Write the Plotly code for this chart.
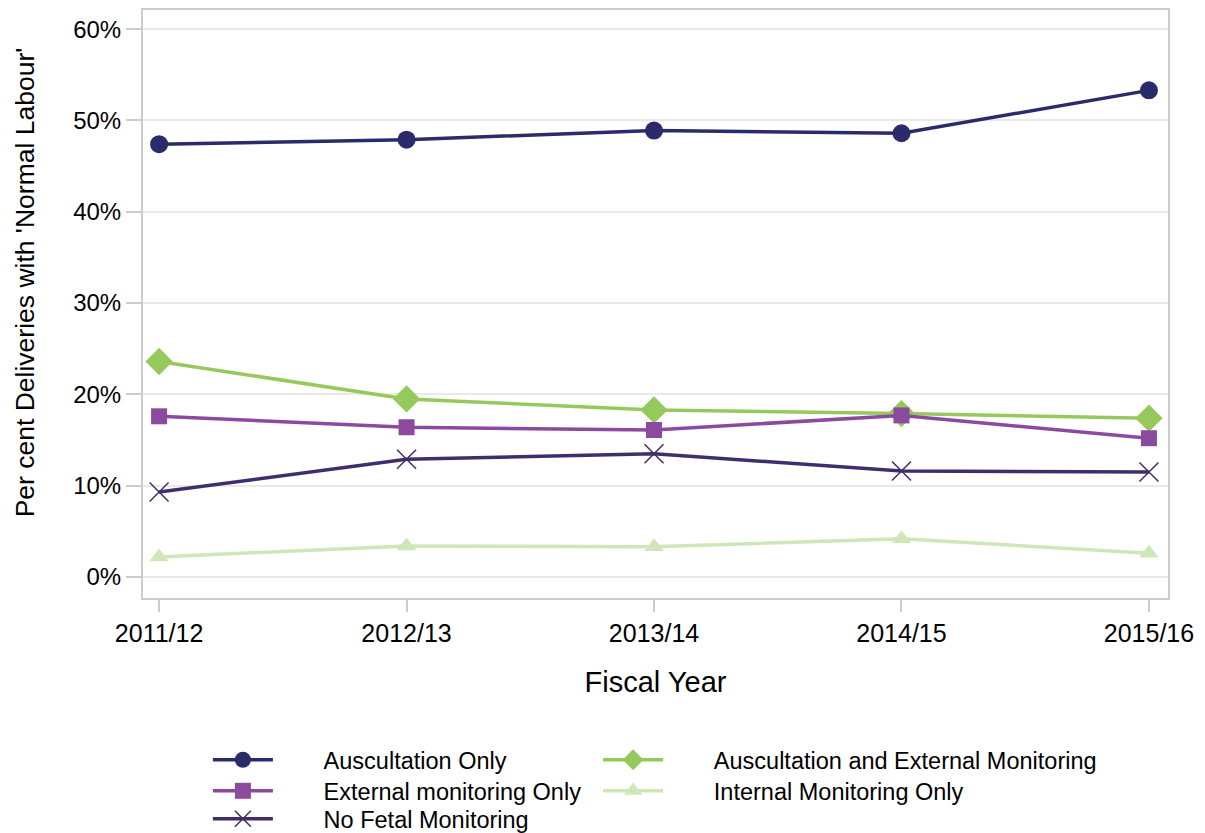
import plotly.graph_objects as go

years = ["2011/12", "2012/13", "2013/14", "2014/15", "2015/16"]

auscultation_only = [47.4, 47.9, 48.9, 48.6, 53.3]
auscultation_external = [23.6, 19.5, 18.3, 17.9, 17.4]
external_only = [17.6, 16.4, 16.1, 17.7, 15.2]
internal_only = [2.2, 3.4, 3.3, 4.2, 2.6]
no_fetal = [9.3, 12.9, 13.5, 11.6, 11.5]

y_ticks = [0, 10, 20, 30, 40, 50, 60]
y_ticktext = [f"{v}%" for v in y_ticks]

# name, values, colour, symbol, size, marker line width, legend id
series = [
    ("Auscultation Only", auscultation_only, "#2b2a6b", "circle", 18, None, "legend"),
    ("Auscultation and External Monitoring", auscultation_external, "#96c95c", "diamond", 21, None, "legend2"),
    ("External monitoring Only", external_only, "#8c4a9e", "square", 16, None, "legend3"),
    ("Internal Monitoring Only", internal_only, "#cfe7b8", "triangle-up", 17, None, "legend4"),
    ("No Fetal Monitoring", no_fetal, "#3f2e6b", "x-thin-open", 19, 1.5, "legend5"),
]

pad = "\u00a0" * 7  # gap between legend line and its text

fig = go.Figure()
for name, vals, color, symbol, size, mlw, leg in series:
    marker = dict(symbol=symbol, size=size, color=color)
    if mlw:
        marker["line"] = dict(color=color, width=mlw)
    fig.add_trace(go.Scatter(x=list(range(len(years))), y=vals, mode="lines+markers",
                             name=pad + name, legend=leg,
                             line=dict(color=color, width=3.5), marker=marker))


def leg_box(x, y):
    return dict(orientation="v", xref="container", yref="container",
                xanchor="left", yanchor="middle", x=x, y=y,
                itemwidth=60, font=dict(size=23.5), bgcolor="rgba(0,0,0,0)")


col1, col2 = 0.167, 0.493
row1, row2, row3 = 0.0885, 0.0509, 0.017

fig.update_layout(
    width=1197, height=825,
    margin=dict(l=135, r=37, t=2, b=235, autoexpand=False),
    plot_bgcolor="white", paper_bgcolor="white",
    font=dict(family="Liberation Sans, Arial", size=24, color="black"),
    showlegend=True,
    legend=leg_box(col1, row1),
    legend2=leg_box(col2, row1),
    legend3=leg_box(col1, row2),
    legend4=leg_box(col2, row2),
    legend5=leg_box(col1, row3),
    annotations=[dict(text="Per cent Deliveries with 'Normal Labour'", textangle=-90,
                      xref="paper", yref="paper", x=-0.115, y=0.537,
                      xanchor="center", yanchor="middle", showarrow=False,
                      font=dict(size=26.5))],
)
fig.update_xaxes(
    tickmode="array", tickvals=list(range(len(years))), ticktext=years,
    range=[-0.065, 4.077], showgrid=False, zeroline=False,
    showline=True, mirror=True, linecolor="#cccccc", linewidth=2,
    ticks="outside", ticklen=12, tickwidth=2, tickcolor="#cccccc",
    title=dict(text="Fiscal Year", standoff=26), tickfont=dict(size=25),
)
fig.update_yaxes(
    range=[-2.3, 62.1], tickmode="array", tickvals=y_ticks, ticktext=y_ticktext,
    showgrid=True, gridcolor="#e9e9e9", gridwidth=2, zeroline=False,
    showline=True, mirror=True, linecolor="#cccccc", linewidth=2,
    ticks="outside", ticklen=15, tickwidth=2, tickcolor="#cccccc",
    tickfont=dict(size=24),
)

fig.write_html("out.html")
